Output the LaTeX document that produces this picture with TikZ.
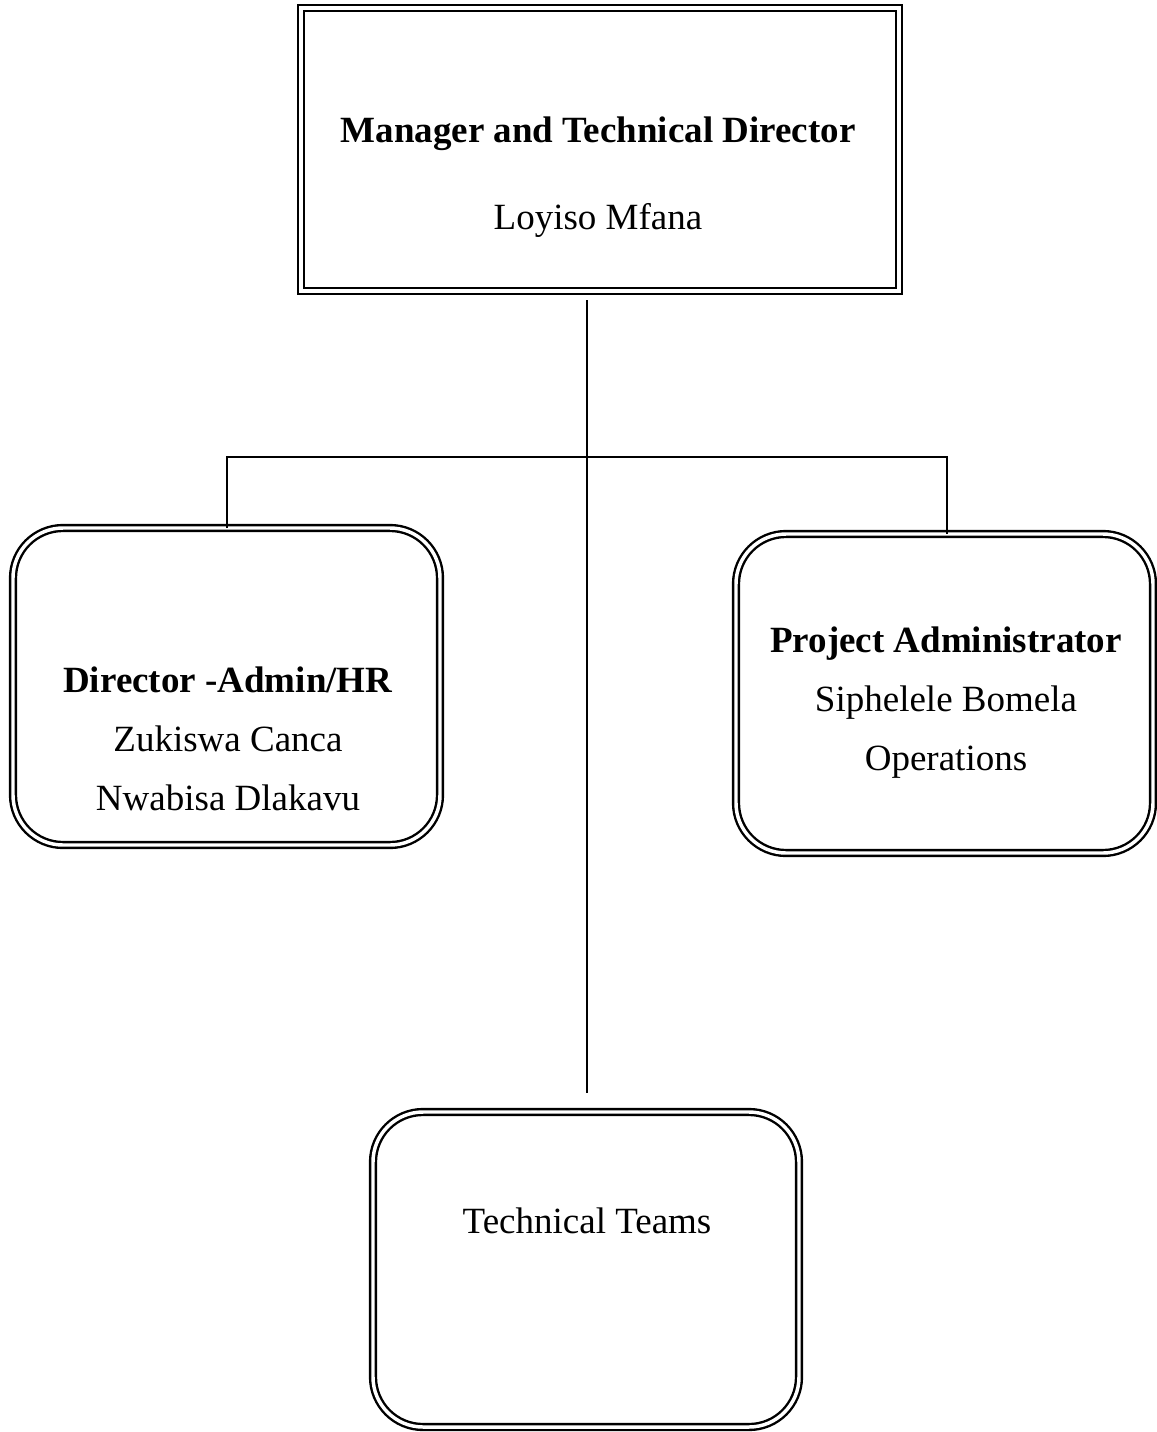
\documentclass[tikz,border=0pt]{standalone}
\usepackage{fontspec}
\setmainfont{Liberation Serif}
\begin{document}
\begin{tikzpicture}[x=0.75pt,y=-0.75pt,
  dbox/.style={draw, double, double distance=2.6pt, line width=1.8pt, inner sep=0pt, outer sep=0pt},
  rbox/.style={dbox, rounded corners=37.5pt},
  txt/.style={align=center, inner sep=0pt, font=\fontsize{27.75}{44.25}\selectfont},
  conn/.style={line width=1.1pt}]
\useasboundingbox (0,0) rectangle (1157,1432);
% boxes
\node[dbox, minimum width=448.5pt, minimum height=212.25pt] (top) at (600,149.5) {};
\node[rbox, minimum width=320.25pt, minimum height=237.75pt] (left) at (226.5,686.5) {};
\node[rbox, minimum width=312.75pt, minimum height=239.25pt] (right) at (944.5,693.5) {};
\node[rbox, minimum width=319.5pt, minimum height=236.25pt] (bottom) at (586,1269.5) {};
% texts
\node[txt] (toptitle) at (598,134) {\textbf{Manager and Technical Director}};
\node[txt] (topname) at (598,220) {Loyiso Mfana};
\node[txt] (lefttext) at (228,739) {\textbf{Director -Admin/HR}\\Zukiswa Canca\\Nwabisa Dlakavu};
\node[txt] (righttext) at (946,703) {\textbf{Project Administrator}\\Siphelele Bomela\\Operations};
\node[txt] (bottomtext) at (587,1221) {Technical Teams};
% connectors
\coordinate (t1) at (587,300);
\coordinate (t2) at (587,1093);
\coordinate (hl) at (227,457);
\coordinate (hr) at (947,457);
\draw[conn] (t1) -- (t2);
\draw[conn] (left.north -| hl) -- (hl) -- (hr) -- (right.north -| hr);
\end{tikzpicture}
\end{document}
